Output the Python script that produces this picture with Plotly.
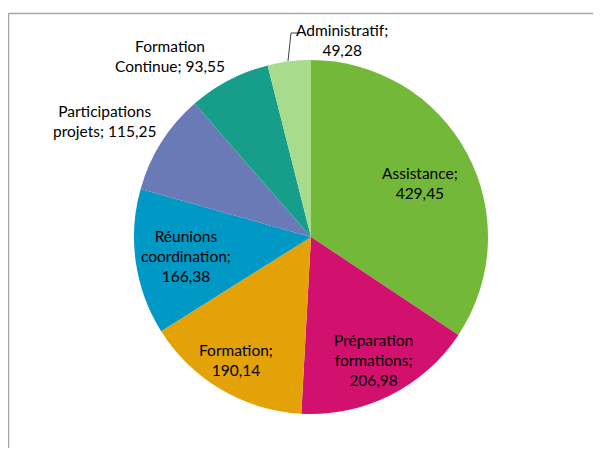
import plotly.graph_objects as go

categories = ["Assistance", "Préparation formations", "Formation", "Réunions coordination",
              "Participations projets", "Formation Continue", "Administratif"]
values = [429.45, 206.98, 190.14, 166.38, 115.25, 93.55, 49.28]
colors = ["#74B83A", "#D2106E", "#E3A207", "#0098C5", "#6A7AB6", "#169E8B", "#A8DC8C"]

label_texts = ["Assistance;<br>429,45", "Préparation<br>formations;<br>206,98", "Formation;<br>190,14",
               "Réunions<br>coordination;<br>166,38", "Participations<br>projets; 115,25",
               "Formation<br>Continue; 93,55", "Administratif;<br>49,28"]
label_px = [(420, 183), (373, 360), (236, 360), (186, 256), (104, 121), (170, 56), (342, 40)]

OFF = 8  # page body margin
W, H = 601 - 2 * OFF, 456 - 2 * OFF


def X(x):
    return (x - OFF) / W


def Y(y):
    return 1 - (y - OFF) / H


fig = go.Figure(go.Pie(
    labels=categories, values=values, sort=False, direction="clockwise", rotation=0,
    marker=dict(colors=colors, line=dict(width=0)), textinfo="none", hoverinfo="label+value",
    domain=dict(x=[X(134), X(488)], y=[Y(414), Y(60)]), showlegend=False,
))

for t, (x, y) in zip(label_texts, label_px):
    fig.add_annotation(x=X(x), y=Y(y), xref="paper", yref="paper", text=t, showarrow=False,
                       xanchor="center", yanchor="middle", align="center",
                       font=dict(family="Lato", size=15.5, color="#000000"))


def P(x, y):
    return f"{X(x)} {Y(y)}"


# leader line for Administratif
fig.add_shape(type="path", xref="paper", yref="paper",
              path=f"M {P(288, 61)} L {P(291, 33)} L {P(299, 33)}",
              line=dict(color="#404040", width=1))

# chart frame (top and left edges visible)
fig.add_shape(type="line", xref="paper", yref="paper", x0=X(8.5), x1=X(8.5), y0=0, y1=Y(13.5),
              line=dict(color="#A6A6A6", width=1.5))
fig.add_shape(type="line", xref="paper", yref="paper", x0=X(8.5), x1=1, y0=Y(13.5), y1=Y(13.5),
              line=dict(color="#A6A6A6", width=1.5))

fig.update_layout(width=W, height=H, margin=dict(l=0, r=0, t=0, b=0),
                  paper_bgcolor="white", plot_bgcolor="white")
fig.write_html("out.html")
